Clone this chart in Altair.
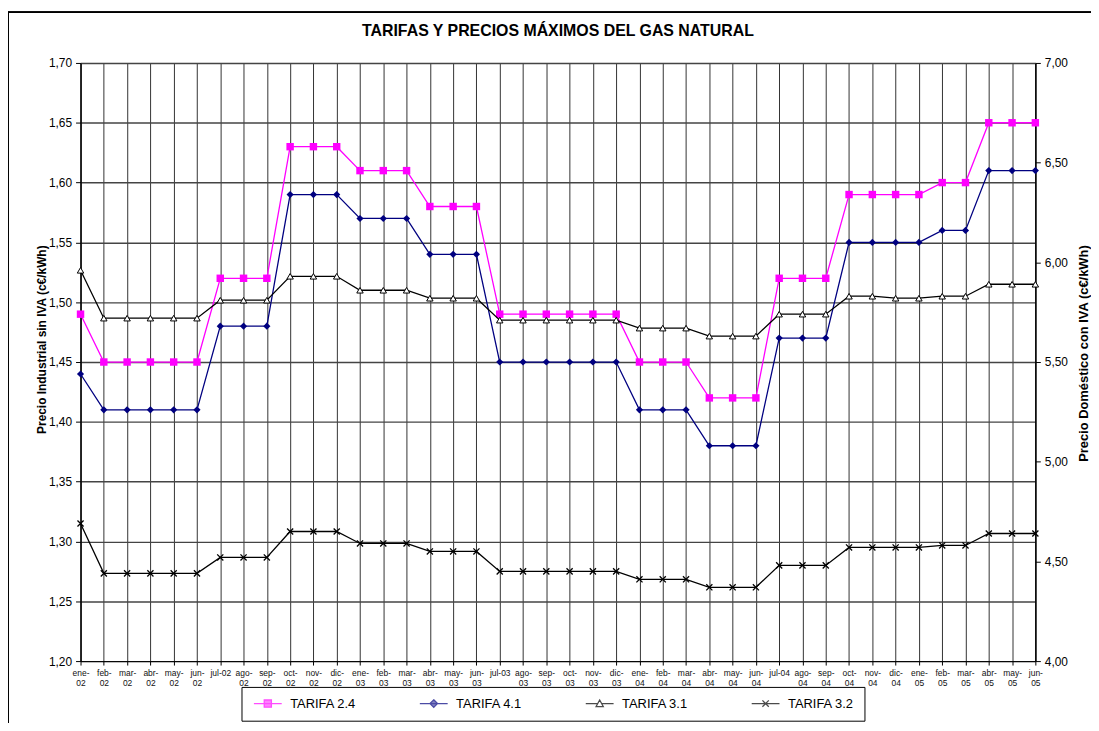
import altair as alt
import pandas as pd

meses = [
    "ene-02", "feb-02", "mar-02", "abr-02", "may-02", "jun-02", "jul-02", "ago-02", "sep-02", "oct-02", "nov-02", "dic-02",
    "ene-03", "feb-03", "mar-03", "abr-03", "may-03", "jun-03", "jul-03", "ago-03", "sep-03", "oct-03", "nov-03", "dic-03",
    "ene-04", "feb-04", "mar-04", "abr-04", "may-04", "jun-04", "jul-04", "ago-04", "sep-04", "oct-04", "nov-04", "dic-04",
    "ene-05", "feb-05", "mar-05", "abr-05", "may-05", "jun-05",
]

# Left axis (Precio Industrial sin IVA)
tarifa_24 = [1.49, 1.45, 1.45, 1.45, 1.45, 1.45, 1.52, 1.52, 1.52, 1.63, 1.63, 1.63,
             1.61, 1.61, 1.61, 1.58, 1.58, 1.58, 1.49, 1.49, 1.49, 1.49, 1.49, 1.49,
             1.45, 1.45, 1.45, 1.42, 1.42, 1.42, 1.52, 1.52, 1.52, 1.59, 1.59, 1.59,
             1.59, 1.60, 1.60, 1.65, 1.65, 1.65]
tarifa_41 = [1.44, 1.41, 1.41, 1.41, 1.41, 1.41, 1.48, 1.48, 1.48, 1.59, 1.59, 1.59,
             1.57, 1.57, 1.57, 1.54, 1.54, 1.54, 1.45, 1.45, 1.45, 1.45, 1.45, 1.45,
             1.41, 1.41, 1.41, 1.38, 1.38, 1.38, 1.47, 1.47, 1.47, 1.55, 1.55, 1.55,
             1.55, 1.56, 1.56, 1.61, 1.61, 1.61]
# Right axis (Precio Doméstico con IVA)
tarifa_31 = [5.96, 5.72, 5.72, 5.72, 5.72, 5.72, 5.81, 5.81, 5.81, 5.93, 5.93, 5.93,
             5.86, 5.86, 5.86, 5.82, 5.82, 5.82, 5.71, 5.71, 5.71, 5.71, 5.71, 5.71,
             5.67, 5.67, 5.67, 5.63, 5.63, 5.63, 5.74, 5.74, 5.74, 5.83, 5.83, 5.82,
             5.82, 5.83, 5.83, 5.89, 5.89, 5.89]
tarifa_32 = [4.69, 4.44, 4.44, 4.44, 4.44, 4.44, 4.52, 4.52, 4.52, 4.65, 4.65, 4.65,
             4.59, 4.59, 4.59, 4.55, 4.55, 4.55, 4.45, 4.45, 4.45, 4.45, 4.45, 4.45,
             4.41, 4.41, 4.41, 4.37, 4.37, 4.37, 4.48, 4.48, 4.48, 4.57, 4.57, 4.57,
             4.57, 4.58, 4.58, 4.64, 4.64, 4.64]

series = ["TARIFA 2.4", "TARIFA 4.1", "TARIFA 3.1", "TARIFA 3.2"]
valores = [tarifa_24, tarifa_41, tarifa_31, tarifa_32]
eje_izq = ["TARIFA 2.4", "TARIFA 4.1"]

left_ticks = [1.20, 1.25, 1.30, 1.35, 1.40, 1.45, 1.50, 1.55, 1.60, 1.65, 1.70]
right_ticks = [4.00, 4.50, 5.00, 5.50, 6.00, 6.50, 7.00]

rows = []
for s, vals in zip(series, valores):
    for m, v in zip(meses, vals):
        rows.append({"mes": m, "serie": s, "valor": v})
df = pd.DataFrame(rows)

FONT = "Liberation Sans"
W, H = 961, 602

x_enc = alt.X(
    "mes:N", sort=meses,
    scale=alt.Scale(type="point", padding=0),
    axis=alt.Axis(
        title=None, labelAngle=0,
        labelExpr="indexof(datum.label,'jul')==0 ? datum.label : [slice(datum.label,0,4), slice(datum.label,4)]",
        labelFontSize=8.5, labelLineHeight=10, labelFont=FONT, labelColor="#111",
        labelPadding=4, tickSize=4, tickColor="black", domainColor="black",
        grid=True, gridColor="#333333", gridWidth=1, labelOverlap=False,
    ),
)

y_left = alt.Y(
    "valor:Q",
    scale=alt.Scale(domain=[1.20, 1.70], nice=False, zero=False),
    axis=alt.Axis(
        values=left_ticks,
        labelExpr="replace(format(datum.value,'.2f'),'.',',')",
        labelFontSize=12, labelFont=FONT, labelColor="black", labelPadding=4,
        tickSize=5, tickColor="black", domainColor="black", domainWidth=1.5,
        grid=True, gridColor="#444444", gridWidth=1.4,
        title="Precio Industrial sin IVA (c€/kWh)", titleFont=FONT, titleFontSize=12,
        titleFontWeight="bold", titleColor="black", titleAngle=270,
        titleX=-39, titleY=278, titleBaseline="middle", titleAlign="center",
    ),
)

y_right = alt.Y(
    "valor:Q",
    scale=alt.Scale(domain=[4.00, 7.00], nice=False, zero=False),
    axis=alt.Axis(
        orient="right", values=right_ticks,
        labelExpr="replace(format(datum.value,'.2f'),'.',',')",
        labelFontSize=12, labelFont=FONT, labelColor="black", labelPadding=4,
        tickSize=5, tickColor="black", domainColor="black", domainWidth=1.5,
        grid=False,
        title="Precio Doméstico con IVA (c€/kWh)", titleFont=FONT, titleFontSize=13,
        titleFontWeight="bold", titleColor="black", titleAngle=270,
        titleX=48, titleY=292, titleBaseline="middle", titleAlign="center",
    ),
)

X_PATH = "M-1,-1L1,1M1,-1L-1,1"
estilos = {
    "TARIFA 2.4": dict(line="#FF00FF", shape="square", fill="#FF00FF", stroke="#FF00FF", size=56, sw=0),
    "TARIFA 4.1": dict(line="#000080", shape="diamond", fill="#000080", stroke="#000080", size=52, sw=0),
    "TARIFA 3.1": dict(line="black", shape="triangle-up", fill="white", stroke="black", size=42, sw=1),
    "TARIFA 3.2": dict(line="black", shape=X_PATH, fill="none", stroke="black", size=38, sw=1.3),
}


def capas(s, y_enc):
    e = estilos[s]
    base = alt.Chart(df).transform_filter(alt.datum.serie == s)
    linea = base.mark_line(color=e["line"], strokeWidth=1.3).encode(x=x_enc, y=y_enc)
    punto_kw = dict(shape=e["shape"], size=e["size"], opacity=1, stroke=e["stroke"], strokeWidth=e["sw"])
    if e["fill"] == "none":
        punto = base.mark_point(filled=False, **punto_kw)
    else:
        punto = base.mark_point(filled=True, fill=e["fill"], **punto_kw)
    return [linea, punto.encode(x=x_enc, y=y_enc)]


left_layers = []
for s in eje_izq:
    left_layers += capas(s, y_left)
right_layers = []
for s in series:
    if s not in eje_izq:
        right_layers += capas(s, y_right)

# legend symbols: line stub + marker
leg_paths = [
    "M-3.5,0H3.5M-0.9,-0.9H0.9V0.9H-0.9Z",
    "M-3.5,0H3.5M0,-0.95L0.95,0L0,0.95L-0.95,0Z",
    "M-3.5,0H-0.55M0.55,0H3.5M0,-0.9L0.9,0.75L-0.9,0.75Z",
    "M-3.5,0H3.5M-0.8,-0.8L0.8,0.8M0.8,-0.8L-0.8,0.8",
]
leg_fill = ["#FF00FF", "#000080", "white", "transparent"]
leg_stroke = ["#FF00FF", "#000080", "black", "black"]

leyenda = alt.Legend(
    title=None, orient="none", legendX=162, legendY=628, direction="horizontal",
    strokeColor="black", fillColor="white", padding=10, cornerRadius=0,
    symbolSize=64, symbolStrokeWidth=1.3, symbolOffset=10, labelOffset=16,
    columnPadding=60, labelFont=FONT, labelFontSize=13, labelColor="black",
)
df_leg = pd.DataFrame({"serie": series})
dummy = alt.Chart(df_leg).mark_point(filled=True).encode(
    shape=alt.Shape("serie:N", scale=alt.Scale(domain=series, range=leg_paths), legend=leyenda),
    fill=alt.Fill("serie:N", scale=alt.Scale(domain=series, range=leg_fill), legend=leyenda),
    stroke=alt.Stroke("serie:N", scale=alt.Scale(domain=series, range=leg_stroke), legend=leyenda),
).transform_filter("false")

marco = alt.Chart(df_leg).mark_rule(color="black", strokeWidth=1.5).encode(
    x=alt.value(-73), x2=alt.value(1017), y=alt.value(-51)
)
marco_izq = alt.Chart(df_leg).mark_rule(color="black", strokeWidth=1.5).encode(
    x=alt.value(-73), y=alt.value(-51), y2=alt.value(665)
)

chart = alt.layer(
    alt.layer(*left_layers),
    alt.layer(*right_layers),
    dummy, marco, marco_izq,
).resolve_scale(y="independent").properties(
    width=W, height=H,
    autosize=alt.AutoSizeParams(type="none"),
    padding={"left": 73, "top": 53, "right": 56, "bottom": 60},
    title=alt.TitleParams(
        "TARIFAS Y PRECIOS MÁXIMOS DEL GAS NATURAL", font=FONT, fontSize=16,
        fontWeight="bold", color="black", anchor="middle", offset=0, dy=44,
        frame="group", baseline="bottom",
    ),
).configure_view(stroke=None).configure(background="white")

chart.save("out.html", embed_options={"renderer": "svg", "actions": False})
